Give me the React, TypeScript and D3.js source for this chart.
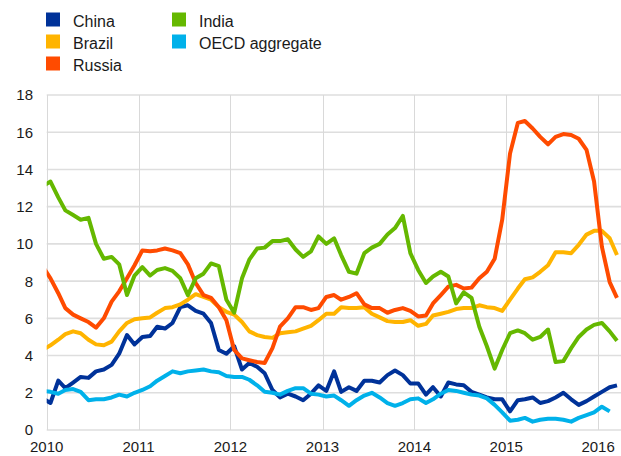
import React, { useRef, useEffect } from "react";
import * as d3 from "d3";

// monthly values, Dec 2009 .. Mar 2016 (OECD to Feb 2016)
const startMonth = new Date(2009, 11, 1);

const china = [
  1.7,
  1.45, 2.65, 2.25, 2.55, 2.85, 2.8, 3.15, 3.25, 3.5, 4.1, 5.1, 4.6,
  5.0, 5.05, 5.55, 5.45, 5.75, 6.6, 6.7, 6.4, 6.25, 5.75, 4.3, 4.1,
  4.5, 3.25, 3.6, 3.4, 3.05, 2.15, 1.75, 1.95, 1.8, 1.6, 1.95, 2.4,
  2.1, 3.15, 2.05, 2.3, 2.1, 2.65, 2.65, 2.55, 2.95, 3.2, 2.95, 2.5,
  2.5, 1.9, 2.3, 1.8, 2.55, 2.45, 2.4, 2.05, 1.9, 1.75, 1.65, 1.65,
  1.0, 1.6, 1.65, 1.75, 1.45, 1.55, 1.75, 2.0, 1.65, 1.35, 1.55, 1.8,
  2.05, 2.3, 2.4,
];

const brazil = [
  4.3,
  4.55, 4.85, 5.15, 5.3, 5.2, 4.85, 4.6, 4.55, 4.75, 5.3, 5.75, 5.95,
  6.0, 6.05, 6.3, 6.55, 6.6, 6.75, 7.0, 7.3, 7.15, 7.0, 6.6, 6.35,
  6.2, 5.8, 5.3, 5.1, 5.0, 4.95, 5.2, 5.25, 5.3, 5.45, 5.6, 5.9,
  6.25, 6.25, 6.6, 6.55, 6.55, 6.6, 6.25, 6.05, 5.85, 5.8, 5.8, 5.9,
  5.6, 5.7, 6.15, 6.25, 6.35, 6.5, 6.55, 6.55, 6.7, 6.6, 6.55, 6.4,
  7.0, 7.6, 8.1, 8.2, 8.5, 8.85, 9.55, 9.55, 9.5, 9.95, 10.5, 10.7,
  10.7, 10.3, 9.4,
];

const russia = [
  8.8,
  8.15, 7.35, 6.55, 6.2, 6.0, 5.8, 5.5, 6.0, 6.9, 7.45, 8.15, 8.85,
  9.65, 9.6, 9.65, 9.75, 9.65, 9.5, 8.9, 7.9, 7.25, 7.1, 6.6, 5.9,
  4.3, 3.85, 3.75, 3.65, 3.6, 4.4, 5.55, 6.0, 6.6, 6.6, 6.45, 6.55,
  7.15, 7.25, 7.0, 7.15, 7.35, 6.75, 6.55, 6.55, 6.3, 6.45, 6.55, 6.4,
  6.1, 6.15, 6.8, 7.25, 7.7, 7.8, 7.6, 7.65, 8.15, 8.5, 9.2, 11.3,
  14.85, 16.5, 16.6, 16.2, 15.75, 15.35, 15.75, 15.9, 15.85, 15.65, 15.05, 13.35,
  9.85, 7.95, 7.1,
];

const india = [
  13.1,
  13.35, 12.5, 11.8, 11.55, 11.3, 11.4, 10.0, 9.2, 9.3, 8.9, 7.25, 8.3,
  8.75, 8.3, 8.6, 8.7, 8.55, 8.15, 7.25, 8.15, 8.4, 8.95, 8.8, 7.0,
  6.3, 8.15, 9.15, 9.75, 9.8, 10.15, 10.15, 10.25, 9.7, 9.3, 9.6, 10.4,
  10.0, 10.3, 9.4, 8.5, 8.4, 9.5, 9.8, 10.0, 10.5, 10.85, 11.5, 9.5,
  8.6, 7.9, 8.25, 8.5, 8.25, 6.8, 7.4, 7.1, 5.55, 4.5, 3.3, 4.3,
  5.2, 5.35, 5.2, 4.85, 5.0, 5.4, 3.65, 3.7, 4.4, 5.0, 5.4, 5.65,
  5.75, 5.3, 4.8,
];

const oecd = [
  2.1,
  2.05, 1.95, 2.15, 2.2, 2.05, 1.6, 1.65, 1.65, 1.75, 1.9, 1.8, 2.0,
  2.15, 2.35, 2.65, 2.9, 3.15, 3.05, 3.15, 3.2, 3.25, 3.15, 3.1, 2.9,
  2.85, 2.85, 2.7, 2.4, 2.05, 2.0, 1.9, 2.1, 2.25, 2.25, 1.95, 1.9,
  1.8, 1.85, 1.6, 1.3, 1.6, 1.85, 2.0, 1.75, 1.45, 1.3, 1.45, 1.65,
  1.7, 1.45, 1.65, 1.95, 2.15, 2.1, 2.0, 1.9, 1.85, 1.7, 1.35, 0.95,
  0.5, 0.55, 0.65, 0.45, 0.55, 0.6, 0.6, 0.55, 0.45, 0.65, 0.8, 0.95,
  1.25, 1.0,
];

const seriesNames = ["China", "Brazil", "Russia", "India", "OECD aggregate"];
const seriesColors = ["#003299", "#FFB400", "#FF4B00", "#65B800", "#00B1EA"];
const seriesValues = [china, brazil, russia, india, oecd];

const yTicks = [0, 2, 4, 6, 8, 10, 12, 14, 16, 18];
const xYears = [2010, 2011, 2012, 2013, 2014, 2015, 2016];

const W = 621;
const H = 456;
const FONT = "'Liberation Sans', Arial, sans-serif";

const App = () => {
  const svgRef = useRef(null);

  useEffect(() => {
    const svg = d3.select(svgRef.current);
    svg.selectAll("*").remove();

    const margin = { left: 46.7, right: 0, top: 95, bottom: 26 };

    const x = d3
      .scaleTime()
      .domain([new Date(2010, 0, 1), new Date(2016, 3, 1)])
      .range([margin.left, W - margin.right]);

    const y = d3
      .scaleLinear()
      .domain([0, 18])
      .range([H - margin.bottom, margin.top]);

    // mid-month position of point i
    const dateAt = (i) => {
      const d = d3.timeMonth.offset(startMonth, i);
      return new Date(d.getFullYear(), d.getMonth(), 16);
    };

    svg
      .append("defs")
      .append("clipPath")
      .attr("id", "plot-clip")
      .append("rect")
      .attr("x", margin.left)
      .attr("y", 0)
      .attr("width", W - margin.left)
      .attr("height", H);

    // horizontal grid
    svg
      .append("g")
      .selectAll("line")
      .data(yTicks)
      .enter()
      .append("line")
      .attr("x1", margin.left)
      .attr("x2", W)
      .attr("y1", (d) => y(d))
      .attr("y2", (d) => y(d))
      .attr("stroke", "#dedede")
      .attr("stroke-width", 1.6);

    // vertical grid at each year
    svg
      .append("g")
      .selectAll("line")
      .data(xYears)
      .enter()
      .append("line")
      .attr("x1", (d) => Math.round(x(new Date(d, 0, 1))) + 0.5)
      .attr("x2", (d) => Math.round(x(new Date(d, 0, 1))) + 0.5)
      .attr("y1", y(18))
      .attr("y2", y(0))
      .attr("stroke", "#d9d9d9")
      .attr("stroke-width", 1);

    // y labels
    svg
      .append("g")
      .selectAll("text")
      .data(yTicks)
      .enter()
      .append("text")
      .attr("x", 33)
      .attr("y", (d) => y(d))
      .attr("dy", "0.36em")
      .attr("text-anchor", "end")
      .attr("font-family", FONT)
      .attr("font-size", 15)
      .attr("fill", "#1a1a1a")
      .text((d) => d);

    // x labels
    svg
      .append("g")
      .selectAll("text")
      .data(xYears)
      .enter()
      .append("text")
      .attr("x", (d) => x(new Date(d, 0, 1)))
      .attr("y", 452)
      .attr("text-anchor", "middle")
      .attr("font-family", FONT)
      .attr("font-size", 15)
      .attr("fill", "#1a1a1a")
      .text((d) => d);

    // lines
    const line = d3
      .line()
      .x((d, i) => x(dateAt(i)))
      .y((d) => y(d));

    svg
      .append("g")
      .attr("clip-path", "url(#plot-clip)")
      .selectAll("path")
      .data(seriesValues)
      .enter()
      .append("path")
      .attr("d", (d) => line(d))
      .attr("fill", "none")
      .attr("stroke", (_, i) => seriesColors[i])
      .attr("stroke-width", 4)
      .attr("stroke-linejoin", "round");

    // legend: two columns
    const legendPos = [
      [46, 12.5],
      [46, 34.5],
      [46, 56.5],
      [172, 12.5],
      [172, 34.5],
    ];
    const legend = svg
      .append("g")
      .selectAll("g")
      .data(seriesNames)
      .enter()
      .append("g")
      .attr("transform", (_, i) => `translate(${legendPos[i][0]}, ${legendPos[i][1]})`);
    legend
      .append("rect")
      .attr("width", 14)
      .attr("height", 14)
      .attr("fill", (_, i) => seriesColors[i]);
    legend
      .append("text")
      .attr("x", 27)
      .attr("y", 14)
      .attr("font-family", FONT)
      .attr("font-size", 16)
      .attr("fill", "#1a1a1a")
      .text((d) => d);
  }, []);

  return (
    <svg
      ref={svgRef}
      width={W}
      height={H}
      style={{ position: "absolute", left: 0, top: 0, background: "#fff" }}
    ></svg>
  );
};

export default App;
